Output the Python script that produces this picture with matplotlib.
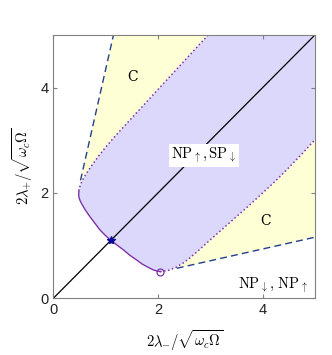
import matplotlib
matplotlib.use("Agg")
import matplotlib.pyplot as plt

# boundary of the NP_up,SP_down region
# upper branch (dotted), from the top edge down to the left tip
upper_x = [2.96, 2.70, 2.45, 2.20, 1.95, 1.70, 1.45, 1.20, 1.00, 0.85, 0.72, 0.62, 0.55, 0.51, 0.49]
upper_y = [5.00, 4.72, 4.45, 4.18, 3.91, 3.64, 3.37, 3.10, 2.87, 2.68, 2.50, 2.35, 2.23, 2.13, 2.05]
# solid part, left tip -> star -> circle
mid_x = [0.49, 0.485, 0.49, 0.51, 0.54, 0.61, 0.70, 0.80, 0.89, 1.00, 1.10, 1.22, 1.34, 1.46, 1.59, 1.70, 1.81, 1.92, 2.04]
mid_y = [2.05, 1.98, 1.92, 1.86, 1.80, 1.68, 1.55, 1.42, 1.30, 1.19, 1.10, 1.01, 0.92, 0.82, 0.73, 0.65, 0.59, 0.535, 0.505]
# lower branch (dotted), from the circle up to the right edge
lower_x = [2.04, 2.20, 2.35, 2.50, 2.65, 2.80, 3.00, 3.25, 3.50, 3.75, 4.00, 4.25, 4.50, 4.75, 5.00]
lower_y = [0.505, 0.53, 0.59, 0.68, 0.80, 0.93, 1.11, 1.33, 1.55, 1.77, 2.00, 2.23, 2.48, 2.74, 3.01]

# dashed lines (edges of the C regions)
dash_up_x = [0.52, 1.15]
dash_up_y = [2.24, 5.00]
dash_lo_x = [2.36, 5.00]
dash_lo_y = [0.57, 1.16]

star_pt = (1.10, 1.10)
circle_pt = (2.04, 0.505)

purple_fill = '#dcd8fc'
yellow_fill = '#ffffd6'
edge_col = '#7d33a8'
dash_col = '#233f8c'

plt.rcParams['mathtext.fontset'] = 'cm'

fig = plt.figure(figsize=(3.32, 3.55), dpi=100)
ax = fig.add_axes([0.1605, 0.1597, 0.788, 0.7417])

# yellow C regions
up_keep = [(x, y) for x, y in zip(upper_x, upper_y) if x >= 0.51]
ax.fill(dash_up_x + [p[0] for p in up_keep],
        dash_up_y + [p[1] for p in up_keep],
        color=yellow_fill, lw=0)
lo_keep = [(x, y) for x, y in zip(lower_x, lower_y) if x >= 2.35][::-1]
ax.fill(dash_lo_x + [p[0] for p in lo_keep],
        dash_lo_y + [p[1] for p in lo_keep],
        color=yellow_fill, lw=0)

# purple region
bx = upper_x + mid_x[1:] + lower_x[1:] + [5.0]
by = upper_y + mid_y[1:] + lower_y[1:] + [5.0]
ax.fill(bx, by, color=purple_fill, lw=0)

ax.plot(upper_x, upper_y, ':', color=edge_col, lw=1.1)
ax.plot(lower_x, lower_y, ':', color=edge_col, lw=1.1)
ax.plot(mid_x, mid_y, '-', color=edge_col, lw=1.0)

ax.plot(dash_up_x, dash_up_y, '--', color=dash_col, lw=1.0, dashes=(5, 3))
ax.plot(dash_lo_x, dash_lo_y, '--', color=dash_col, lw=1.0, dashes=(5, 3))

ax.plot([0, 5], [0, 5], '-', color='black', lw=0.9)

ax.plot(*star_pt, marker='*', color='#0a0a9a', ms=6, zorder=5)
ax.plot(*circle_pt, marker='o', mfc='none', mec=edge_col, ms=5, mew=0.9, zorder=5)

ax.text(1.52, 4.21, 'C', fontsize=10, family='serif', ha='center', va='center')
ax.text(4.06, 1.47, 'C', fontsize=10, family='serif', ha='center', va='center')
ax.text(2.88, 2.71, r'$\mathrm{NP}_{\uparrow},\mathrm{SP}_{\downarrow}$', fontsize=10.5,
        ha='center', va='center',
        bbox=dict(facecolor='white', edgecolor='none', pad=1.5))
ax.text(4.20, 0.25, r'$\mathrm{NP}_{\downarrow},\,\mathrm{NP}_{\uparrow}$', fontsize=10.5,
        ha='center', va='center')

ax.set_xlim(0, 5)
ax.set_ylim(0, 5)
ax.set_xticks([0, 2, 4])
ax.set_yticks([0, 2, 4])
ax.tick_params(direction='in', length=3, top=True, right=True, color='#808080',
               labelsize=10.5, labelcolor='#222222')
for lab in ax.get_xticklabels() + ax.get_yticklabels():
    lab.set_family('Liberation Sans')
for s in ax.spines.values():
    s.set_color('#808080')

ax.set_xlabel(r'$2\lambda_{-}/\sqrt{\omega_c\Omega}$', fontsize=10.5, labelpad=8)
ax.set_ylabel(r'$2\lambda_{+}/\sqrt{\omega_c\Omega}$', fontsize=10.5, labelpad=4)

fig.savefig('out.png', dpi=100)
